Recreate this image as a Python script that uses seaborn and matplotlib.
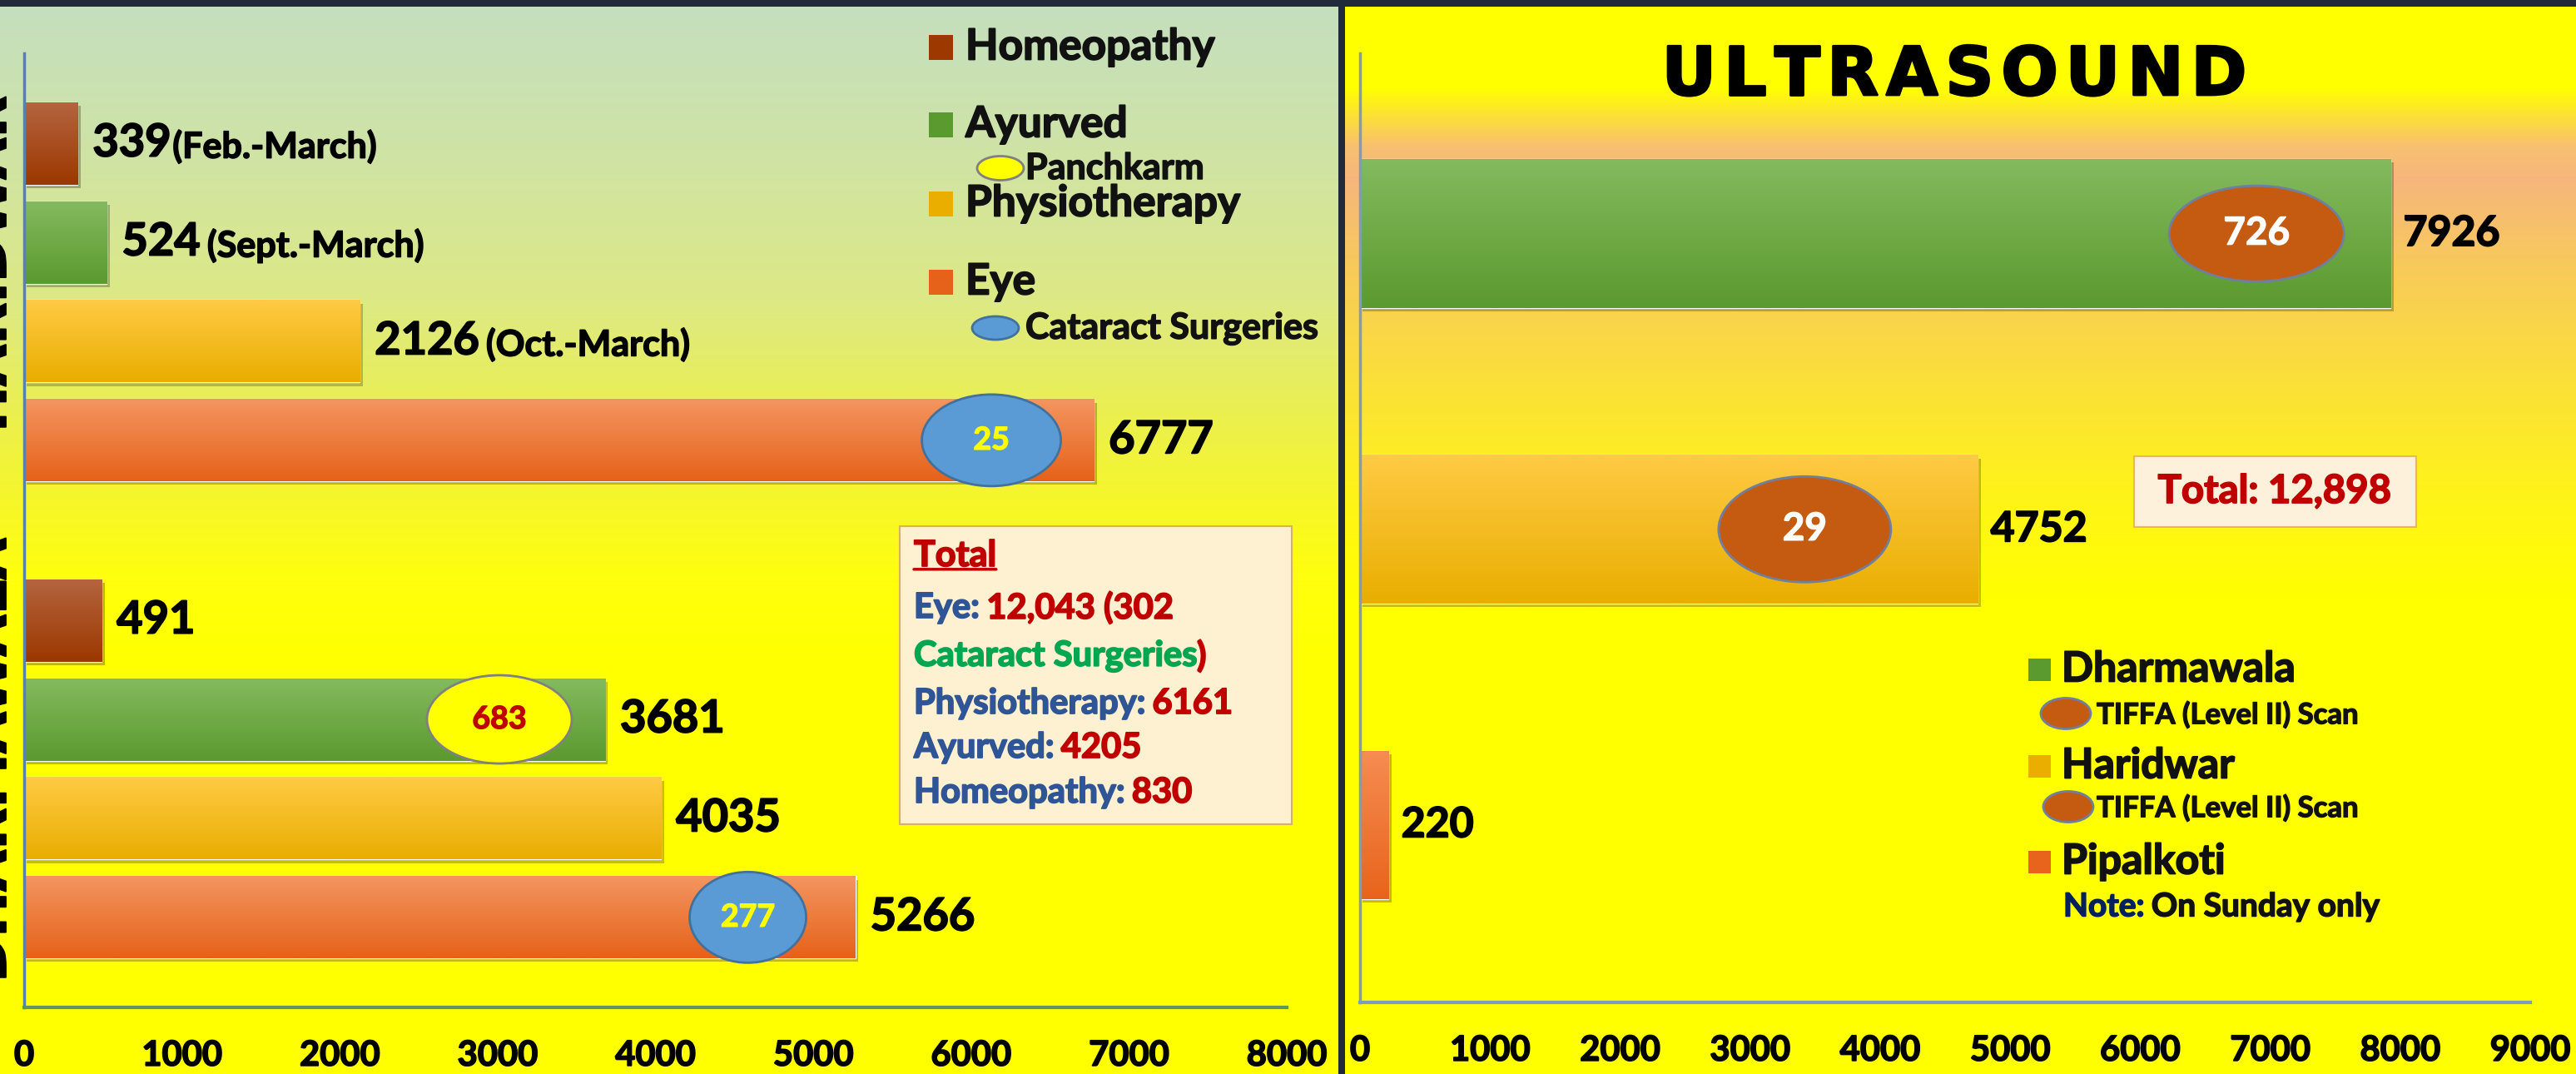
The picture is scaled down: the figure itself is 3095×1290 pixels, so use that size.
import matplotlib
matplotlib.use('Agg')

import numpy as np
import pandas as pd
import matplotlib.pyplot as plt
import matplotlib.patheffects as pe
import seaborn as sns
from matplotlib.colors import to_rgb
from matplotlib.patches import Ellipse, Rectangle

# ------------------------------------------------------------------
# data
# ------------------------------------------------------------------
opd_sites = ['Haridwar', 'Dharmawala']
departments = ['Homeopathy', 'Ayurved', 'Physiotherapy', 'Eye']
haridwar_patients = [339, 524, 2126, 6777]
dharmawala_patients = [491, 3681, 4035, 5266]
haridwar_periods = ['(Feb.-March)', '(Sept.-March)', '(Oct.-March)', '']

# numbers shown in the ovals inside the bars
opd_callouts = [('Haridwar', 'Eye', 25), ('Dharmawala', 'Eye', 277),
                ('Dharmawala', 'Ayurved', 683)]

us_sites = ['Dharmawala', 'Haridwar', 'Pipalkoti']
us_scans = [7926, 4752, 220]
tiffa_callouts = [('Dharmawala', 726), ('Haridwar', 29)]

opd_total_rows = [
    [('Eye:', 'blue'), ('12,043 (302', 'red')],
    [('Cataract Surgeries', 'green'), (')', 'red')],
    [('Physiotherapy:', 'blue'), ('6161', 'red')],
    [('Ayurved:', 'blue'), ('4205', 'red')],
    [('Homeopathy:', 'blue'), ('830', 'red')],
]
us_total = 'Total: 12,898'

# ------------------------------------------------------------------
# styles
# ------------------------------------------------------------------
W, H = 3095, 1290
DARK = '#212a3a'
TXT = {'blue': '#2f5597', 'red': '#c00000', 'green': '#00a650'}

dept_colors = {  # (top, bottom) of the bar gradient
    'Homeopathy': ('#b4643f', '#9c3800'),
    'Ayurved': ('#84ba5e', '#5b9a2f'),
    'Physiotherapy': ('#ffca44', '#e9ae00'),
    'Eye': ('#f49560', '#e6621a'),
}
site_colors = {
    'Dharmawala': dept_colors['Ayurved'],
    'Haridwar': dept_colors['Physiotherapy'],
    'Pipalkoti': ('#f68c52', '#e8641c'),
}
oval_style = {
    'Eye': dict(fc='#5b9bd5', ec='#41719c', tc='#ffff00'),
    'Ayurved': dict(fc='#ffff00', ec='#808080', tc='#c00000'),
    'TIFFA': dict(fc='#c55a11', ec='#6f7fa0', tc='white'),
}
# oval geometry in px: (distance of centre back from bar end, width, height)
opd_oval_geom = {('Haridwar', 'Eye'): (123, 167, 110),
                 ('Dharmawala', 'Eye'): (129, 140, 109),
                 ('Dharmawala', 'Ayurved'): (127, 174, 106)}
us_oval_geom = {'Dharmawala': (161, 210, 115), 'Haridwar': (208, 207, 127)}

sns.set_theme(style='white')
plt.rcParams['font.family'] = ['Lato', 'DejaVu Sans']


def heavy(color, lw=1.3):
    # thicken Lato Bold a little towards the look of Calibri Bold
    return dict(fontweight='bold', color=color,
                path_effects=[pe.withStroke(linewidth=lw, foreground=color)])


fig = plt.figure(figsize=(W / 100, H / 100), dpi=100)

# ------------------------------------------------------------------
# background panels
# ------------------------------------------------------------------
yy = np.arange(H)


def vgrad(stops):
    ys = [s[0] for s in stops]
    cols = np.array([to_rgb(s[1]) for s in stops])
    return np.stack([np.interp(yy, ys, cols[:, k]) for k in range(3)], axis=1)


left_bg = vgrad([(0, '#c4dfc0'), (180, '#cfe3a6'), (360, '#dde985'), (500, '#ebf04e'),
                 (600, '#f6f62a'), (700, '#ffff0c'), (800, '#ffff00'), (H, '#ffff00')])
right_bg = vgrad([(0, '#ffff00'), (105, '#ffff00'), (175, '#f8c070'), (215, '#f6b67c'),
                  (330, '#f8cc58'), (460, '#fbe038'), (600, '#fff418'), (720, '#ffff00'),
                  (H, '#ffff00')])
bg = np.zeros((H, W, 3))
bg[:, :1608] = left_bg[:, None, :]
bg[:, 1616:] = right_bg[:, None, :]
bg[:, 1608:1616] = to_rgb(DARK)
bg[:8, :] = to_rgb(DARK)

ax_bg = fig.add_axes([0, 0, 1, 1])
ax_bg.imshow(bg, extent=(0, W, H, 0), aspect='auto', interpolation='nearest')
ax_bg.axis('off')


def fig_rect(x0, x1, y0, y1):
    return [x0 / W, 1 - y1 / H, (x1 - x0) / W, (y1 - y0) / H]


def gradient_fill(ax, bar, top, bottom):
    x0, y0 = bar.get_x(), bar.get_y()
    w, h = bar.get_width(), bar.get_height()
    t = np.linspace(0, 1, 64)[:, None, None]
    img = (1 - t) * np.array(to_rgb(top)) + t * np.array(to_rgb(bottom))
    im = ax.imshow(img, extent=(x0, x0 + w, y0 + h, y0), aspect='auto',
                   origin='upper', interpolation='bilinear', zorder=bar.get_zorder() + 0.1)
    im.set_clip_path(bar)
    bar.set_path_effects([pe.SimplePatchShadow(offset=(2.5, -3), alpha=0.3), pe.Normal()])


def style_axis(ax, xmax):
    ticks = list(range(0, xmax + 1, 1000))
    ax.set_xticks(ticks)
    ax.set_xticklabels([str(t) for t in ticks], fontsize=30, **heavy('black', 1.2))
    ax.set_yticks([])
    ax.set_xlabel('')
    ax.set_ylabel('')
    ax.tick_params(axis='x', length=0, pad=28, colors='black')
    ax.set_facecolor('none')
    for s in ['top', 'right']:
        ax.spines[s].set_visible(False)
    ax.spines['left'].set_color('#5a7fa8')
    ax.spines['left'].set_linewidth(2.5)
    ax.spines['bottom'].set_color('#5e9560')
    ax.spines['bottom'].set_linewidth(3)


# ------------------------------------------------------------------
# left: OPD departments
# ------------------------------------------------------------------
df_opd = pd.DataFrame({
    'site': np.repeat(opd_sites, len(departments)),
    'dept': departments * len(opd_sites),
    'patients': haridwar_patients + dharmawala_patients,
})
axL = fig.add_axes(fig_rect(29, 1546, 64, 1210))
sns.barplot(data=df_opd, x='patients', y='site', hue='dept', order=opd_sites,
            hue_order=departments, palette={d: c[1] for d, c in dept_colors.items()},
            orient='h', width=0.83, gap=0.168, saturation=1, errorbar=None,
            legend=False, ax=axL)

hue_step = 0.83 / len(departments)
opd_bars = {}
for bar in list(axL.patches):
    cy = bar.get_y() + bar.get_height() / 2
    si = int(round(cy))
    di = int(round((cy - si) / hue_step + 1.5))
    opd_bars[(opd_sites[si], departments[di])] = (bar.get_width(), cy)
    gradient_fill(axL, bar, *dept_colors[departments[di]])

axL.set_xlim(0, 8000)
axL.set_ylim(1.5, -0.5)
style_axis(axL, 8000)

periods = dict(zip(departments, haridwar_periods))
for (site, dept), (val, cy) in opd_bars.items():
    t = axL.annotate(f'{val:.0f}', xy=(val, cy), xytext=(13, 0), textcoords='offset points',
                     ha='left', va='center', fontsize=39, **heavy('black'))
    if site == 'Haridwar' and periods[dept]:
        gap = 1.5 if dept == 'Homeopathy' else 6
        axL.annotate(periods[dept], xy=(1, 0), xycoords=t, xytext=(gap, 0),
                     textcoords='offset points', ha='left', va='bottom',
                     fontsize=31, **heavy('black', 1.1))

# ------------------------------------------------------------------
# right: ultrasound
# ------------------------------------------------------------------
df_us = pd.DataFrame({'site': us_sites, 'scans': us_scans})
axR = fig.add_axes(fig_rect(1634, 3040, 64, 1204))
sns.barplot(data=df_us, x='scans', y='site', hue='site', order=us_sites,
            palette={s: c[1] for s, c in site_colors.items()}, orient='h',
            width=0.503, saturation=1, errorbar=None, legend=False, ax=axR)
us_bars = {}
for bar in list(axR.patches):
    cy = bar.get_y() + bar.get_height() / 2
    site = us_sites[int(round(cy))]
    us_bars[site] = (bar.get_width(), cy)
    gradient_fill(axR, bar, *site_colors[site])

axR.set_xlim(0, 9000)
axR.set_ylim(2.6, -0.61)
style_axis(axR, 9000)
axR.spines['left'].set_color('#7d9bbd')
axR.spines['bottom'].set_color('#7d9bbd')

for site, (val, cy) in us_bars.items():
    axR.annotate(f'{val:.0f}', xy=(val, cy), xytext=(11, 0), textcoords='offset points',
                 ha='left', va='center', fontsize=36, **heavy('black'))

# ------------------------------------------------------------------
# overlay in pixel coordinates: ovals, legends, boxes, titles
# ------------------------------------------------------------------
ov = fig.add_axes([0, 0, 1, 1])
ov.set_xlim(0, W)
ov.set_ylim(H, 0)
ov.axis('off')


def to_px(ax, x, y):
    X, Y = ax.transData.transform((x, y))
    return X, H - Y


def oval(x, y, w, h, style, label=None, size=26):
    ov.add_patch(Ellipse((x, y), w, h, facecolor=style['fc'], edgecolor=style['ec'], lw=2))
    if label is not None:
        ov.text(x, y, str(label), ha='center', va='center', fontsize=size,
                **heavy(style['tc'], 1.0))


for site, dept, num in opd_callouts:
    val, cy = opd_bars[(site, dept)]
    ex, ey = to_px(axL, val, cy)
    back, w, h = opd_oval_geom[(site, dept)]
    oval(ex - back, ey, w, h, oval_style[dept], num, 27)

for site, num in tiffa_callouts:
    val, cy = us_bars[site]
    ex, ey = to_px(axR, val, cy)
    back, w, h = us_oval_geom[site]
    oval(ex - back, ey, w, h, oval_style['TIFFA'], num, 33)

# left legend
for dept, yc in zip(departments, [57, 150, 245, 339]):
    ov.add_patch(Rectangle((1116, yc - 15), 29, 30, facecolor=dept_colors[dept][1], lw=0))
    ov.text(1160, yc, dept, ha='left', va='center', fontsize=37, **heavy('#111111'))
oval(1202, 202, 56, 29, oval_style['Ayurved'])
ov.text(1232, 202, 'Panchkarm', ha='left', va='center', fontsize=31, **heavy('#111111', 1.1))
oval(1196, 394, 56, 28, oval_style['Eye'])
ov.text(1232, 394, 'Cataract Surgeries', ha='left', va='center', fontsize=31,
        **heavy('#111111', 1.1))

# left totals box
ov.add_patch(Rectangle((1081, 632), 471, 358, facecolor='#fef1d2', edgecolor='#d8b25a', lw=1.5))
t_total = ov.text(1098, 667, 'Total', ha='left', va='center', fontsize=31, **heavy(TXT['red']))
ov.annotate('', xy=(1, 0.08), xycoords=t_total, xytext=(0, 0.08), textcoords=t_total,
            arrowprops=dict(arrowstyle='-', color=TXT['red'], lw=2.5, shrinkA=0, shrinkB=0))
for parts, yc in zip(opd_total_rows, [730, 788, 845, 898, 952]):
    prev = ov.text(1098, yc, parts[0][0], ha='left', va='center', fontsize=30,
                   **heavy(TXT[parts[0][1]]))
    for txt, col in parts[1:]:
        gap = 0 if txt == ')' else 6
        prev = ov.annotate(txt, xy=(1, 0.5), xycoords=prev, xytext=(gap, 0),
                           textcoords='offset points', ha='left', va='center',
                           fontsize=30, **heavy(TXT[col]))

# right totals box
ov.add_patch(Rectangle((2564, 548), 339, 85, facecolor='#fdf1dc', edgecolor='#eab27a', lw=1.5))
ov.text(2733, 590, us_total, ha='center', va='center', fontsize=34, **heavy(TXT['red']))

# right legend
for site, yc in zip(us_sites, [804, 920, 1035]):
    ov.add_patch(Rectangle((2437, yc - 13.5), 27, 27, facecolor=site_colors[site][1], lw=0))
    ov.text(2477, yc, site, ha='left', va='center', fontsize=36, **heavy('#111111'))
for xc, yc in [(2482, 857), (2485, 969)]:
    oval(xc, yc, 60, 37, oval_style['TIFFA'])
    ov.text(2519, yc + 2, 'TIFFA (Level II) Scan', ha='left', va='center', fontsize=25,
            **heavy('#111111', 1.0))
note = ov.text(2479, 1089, 'Note:', ha='left', va='center', fontsize=28, **heavy('#002060', 1.1))
ov.annotate('On Sunday only', xy=(1, 0.5), xycoords=note, xytext=(6, 0),
            textcoords='offset points', ha='left', va='center', fontsize=28,
            **heavy('#111111', 1.1))

# ULTRASOUND title, letter-spaced
renderer = fig.canvas.get_renderer()
title_kw = dict(ha='left', va='center', fontsize=58, family='DejaVu Sans', **heavy('black', 2))
letters = [ov.text(0, 92, ch, **title_kw) for ch in 'ULTRASOUND']
widths = [t.get_window_extent(renderer).width for t in letters]
spacing = 9
x = 2348 - (sum(widths) + spacing * (len(widths) - 1)) / 2
for t, w in zip(letters, widths):
    t.set_x(x)
    x += w + spacing

# side labels (cut off at the left edge, as in the slide)
ov.text(21, 317, 'HARIDWAR', rotation=90, ha='right', va='center', fontsize=47,
        family='DejaVu Sans', **heavy('black'))
ov.text(21, 913, 'DHARMAWALA', rotation=90, ha='right', va='center', fontsize=47,
        family='DejaVu Sans', **heavy('black'))

fig.savefig('out.png', dpi=100)
plt.close(fig)
